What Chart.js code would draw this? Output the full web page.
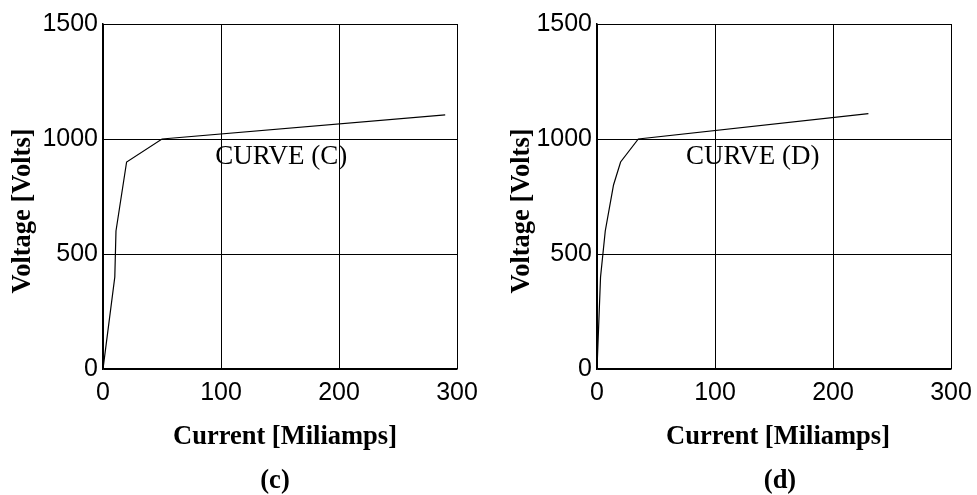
<!DOCTYPE html>
<html>
<head>
<meta charset="utf-8">
<script src="https://cdn.jsdelivr.net/npm/chart.js@4.4.1/dist/chart.umd.min.js"></script>
<style>
html, body { margin: 0; padding: 0; background: #fff; overflow: hidden; }
#wrap { position: relative; width: 977px; height: 495px; }
#wrap canvas { position: absolute; top: 0; }
</style>
</head>
<body>
<div id="wrap">
    <canvas id="chartC" width="490" height="495" style="left:0"></canvas>
    <canvas id="chartD" width="487" height="495" style="left:490px"></canvas>
</div>
<script>
// tick values on both panels
const xTicks = [0, 100, 200, 300];
const yTicks = [0, 500, 1000, 1500];

// curve (C): current in mA, voltage in V
const currentC = [0, 10, 11, 14, 20, 50, 290];
const voltageC = [0, 400, 600, 700, 900, 1000, 1105];

// curve (D)
const currentD = [0, 3, 7, 14, 20, 35, 230];
const voltageD = [0, 400, 600, 800, 900, 1000, 1110];

const textPlugin = {
    id: 'paperText',
    afterDraw(chart, args, o) {
        const ctx = chart.ctx;
        const xs = chart.scales.x;
        const ys = chart.scales.y;
        ctx.save();
        ctx.fillStyle = '#000';
        ctx.textAlign = 'center';
        ctx.textBaseline = 'middle';

        ctx.font = 'bold 26.5px "Liberation Serif"';
        ctx.fillText(o.xTitle, o.xTitlePos, 437);
        ctx.fillText(o.caption, o.captionPos, 481);

        ctx.save();
        ctx.translate(o.yTitlePos, 211);
        ctx.rotate(-Math.PI / 2);
        ctx.fillText(o.yTitle, 0, 0);
        ctx.restore();

        ctx.font = '27px "Liberation Serif"';
        ctx.fillText(o.note, xs.getPixelForValue(o.noteAt[0]), ys.getPixelForValue(o.noteAt[1]));
        ctx.restore();
    }
};

function makeChart(id, xs, ys, yWidth, padRight, text) {
    let points = xs.map((v, i) => ({ x: v, y: ys[i] }));
    return new Chart(document.getElementById(id).getContext('2d'), {
        type: 'line',
        data: {
            datasets: [{
                data: points,
                borderColor: '#000',
                borderWidth: 1.2,
                pointRadius: 0,
                fill: false,
                tension: 0
            }]
        },
        options: {
            responsive: false,
            animation: false,
            layout: { padding: { top: 24, right: padRight, bottom: 0, left: 0 } },
            plugins: {
                legend: { display: false },
                tooltip: { enabled: false },
                paperText: text
            },
            scales: {
                x: {
                    type: 'linear',
                    min: 0,
                    max: 300,
                    afterBuildTicks: s => { s.ticks = xTicks.map(v => ({ value: v })); },
                    afterFit: s => {
                        s.height = 126;
                        s.paddingLeft = 0;
                        s.paddingRight = 0;
                    },
                    grid: { color: '#000', lineWidth: 1, drawTicks: false },
                    border: { color: '#000', width: 1.5 },
                    ticks: {
                        color: '#000',
                        padding: 9,
                        maxRotation: 0,
                        callback: v => String(v),
                        font: { family: '"Liberation Sans"', size: 25 }
                    }
                },
                y: {
                    type: 'linear',
                    min: 0,
                    max: 1500,
                    afterBuildTicks: s => { s.ticks = yTicks.map(v => ({ value: v })); },
                    afterFit: s => { s.width = yWidth; },
                    grid: { color: '#000', lineWidth: 1, drawTicks: false },
                    border: { color: '#000', width: 1.5 },
                    ticks: {
                        color: '#000',
                        padding: 5,
                        callback: v => String(v),
                        font: { family: '"Liberation Sans"', size: 25 }
                    }
                }
            }
        },
        plugins: [textPlugin]
    });
}

makeChart('chartC', currentC, voltageC, 103, 33, {
    xTitle: 'Current [Miliamps]', xTitlePos: 285,
    yTitle: 'Voltage [Volts]', yTitlePos: 23,
    caption: '(c)', captionPos: 275,
    note: 'CURVE (C)', noteAt: [151, 922]
});

makeChart('chartD', currentD, voltageD, 107, 26, {
    xTitle: 'Current [Miliamps]', xTitlePos: 288,
    yTitle: 'Voltage [Volts]', yTitlePos: 32,
    caption: '(d)', captionPos: 290,
    note: 'CURVE (D)', noteAt: [132, 922]
});
</script>
</body>
</html>
